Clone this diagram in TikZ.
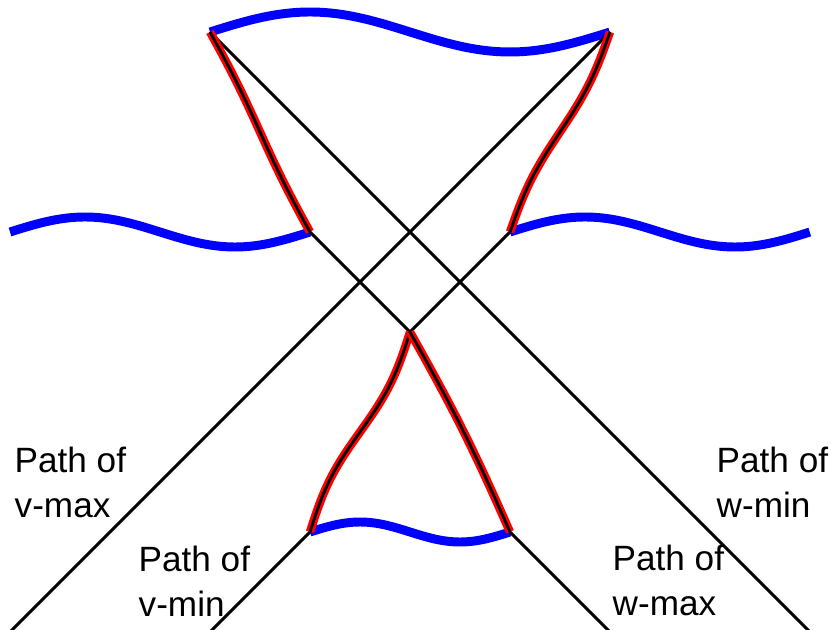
\documentclass[tikz,border=0pt]{standalone}
\usepackage{fontspec}
\setmainfont{Liberation Sans}
\usetikzlibrary{calc}

% sine-shaped stroke from one named point to another: amplitude, periods
\newcommand{\wavyline}[4]{let \p1=(#1), \p2=(#2) in
  plot[variable=\t, domain=0:1, samples=60, smooth]
  ({\x1+(\x2-\x1)*\t-#3*sin(#4*360*\t)*(\y2-\y1)},
   {\y1+(\y2-\y1)*\t+#3*sin(#4*360*\t)*(\x2-\x1)})}

\begin{document}
\begin{tikzpicture}[
  x=1cm, y=-1cm,
  font=\fontsize{10}{12.8}\selectfont,
  boundary/.style={blue, line width=2.55pt},
  pathline/.style={black, line width=0.85pt},
  horizon/.style={draw=red, line width=0.8pt, double=black, double distance=0.8pt},
  tag/.style={anchor=base west, align=left, inner sep=0pt}
]
\useasboundingbox (-0.1,-0.32) rectangle (8.22,5.98);

\coordinate (wstart) at (2,0);
\coordinate (vstart) at (6,0);
\coordinate (lfar) at (0,2);
\coordinate (wleft) at (3,2);
\coordinate (vright) at (5,2);
\coordinate (rfar) at (8,2);
\coordinate (cross) at (4,3);
\coordinate (vlow) at (3,5);
\coordinate (wlow) at (5,5);
\coordinate (vmaxend) at (0,6);
\coordinate (vminend) at (2,6);
\coordinate (wmaxend) at (6,6);
\coordinate (wminend) at (8,6);

% boundaries
\draw[boundary] \wavyline{wstart}{vstart}{0.05}{1};
\draw[boundary] \wavyline{lfar}{wleft}{0.05}{1};
\draw[boundary] \wavyline{vright}{rfar}{0.05}{1};
\draw[boundary] \wavyline{vlow}{wlow}{0.05}{1};

% paths
\draw[pathline] (wstart) -- (wminend);
\draw[pathline] (vstart) -- (vmaxend);
\draw[pathline] (wleft) -- (cross);
\draw[pathline] (cross) -- (vright);
\draw[pathline] (vlow) -- (vminend);
\draw[pathline] (wlow) -- (wmaxend);

\draw[horizon] \wavyline{wstart}{wleft}{0.006}{1};
\draw[horizon] \wavyline{vstart}{vright}{0.02}{1};
\draw[horizon] \wavyline{cross}{vlow}{0.025}{1};
\draw[horizon] \wavyline{cross}{wlow}{0.015}{0.5};

\node[tag] (vmax) at (0.04,4.85) {Path of\\v-max};
\node[tag] (vmin) at (1.28,5.84) {Path of\\v-min};
\node[tag] (wmax) at (6.02,5.83) {Path of\\w-max};
\node[tag] (wmin) at (7.06,4.85) {Path of\\w-min};
\end{tikzpicture}
\end{document}
